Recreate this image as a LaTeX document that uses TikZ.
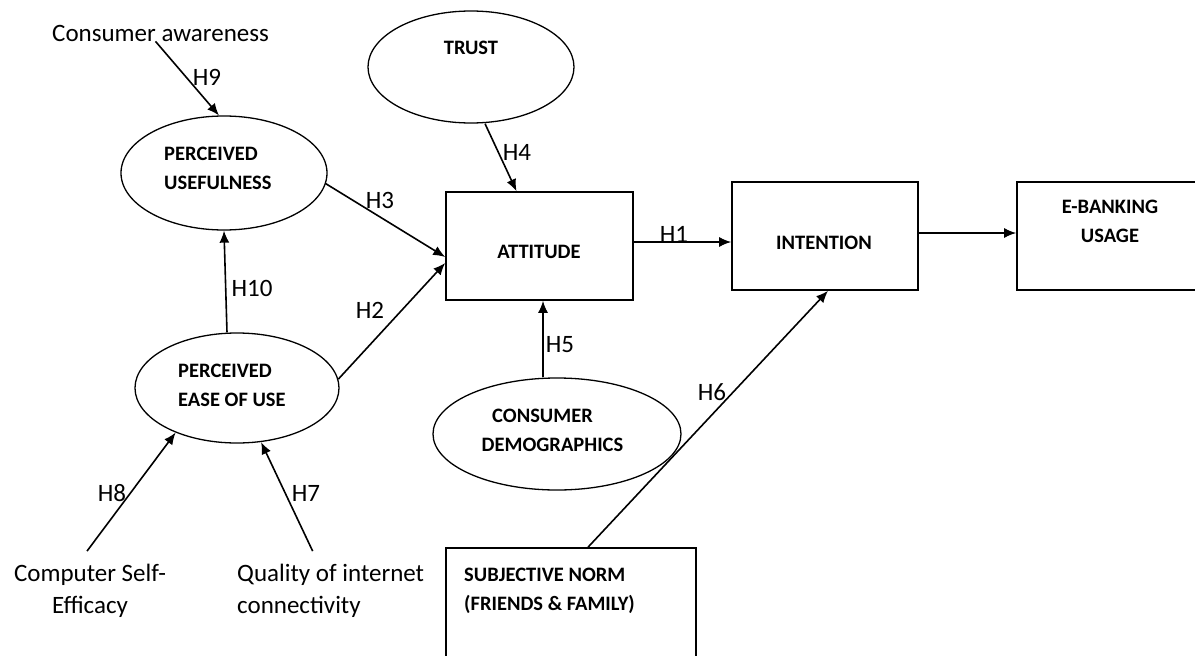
\documentclass[tikz,border=0pt]{standalone}
\usepackage{fontspec}
\setmainfont{Carlito}
\usetikzlibrary{arrows.meta,shapes.geometric}
\begin{document}
\begin{tikzpicture}[x=1pt,y=-1pt,
  ell/.style={draw,ellipse,line width=1.3pt,inner sep=0pt},
  box/.style={draw,rectangle,line width=1.6pt,inner sep=0pt},
  arr/.style={line width=1.6pt,-{Latex[length=12pt,width=10pt]}},
  lab/.style={font=\fontsize{25}{32}\selectfont,inner sep=0pt},
  bt/.style={font=\fontsize{20.5}{29}\selectfont\bfseries,inner sep=0pt},
]
\clip (0,0) rectangle (1195,656);
\fill[white] (0,0) rectangle (1195,656);

% shapes
\node[ell,minimum width=206pt,minimum height=114pt] (pu) at (224,173) {};
\node[ell,minimum width=204pt,minimum height=110pt] (peou) at (237,388) {};
\node[ell,minimum width=206pt,minimum height=112pt] (trust) at (471,67) {};
\node[ell,minimum width=248pt,minimum height=112pt] (cd) at (557,434) {};
\node[box,minimum width=187pt,minimum height=108pt] (att) at (539.5,246) {};
\node[box,minimum width=186pt,minimum height=108pt] (int) at (825,236) {};
\node[box,minimum width=198pt,minimum height=108pt] (eb) at (1116,236) {};
\node[box,minimum width=250pt,minimum height=152pt] (sn) at (571,624) {};

% texts in shapes
\node[bt,align=left,anchor=west] (putxt) at (164,168.5) {PERCEIVED\\USEFULNESS};
\node[bt,align=left,anchor=west] (peoutxt) at (178,385.5) {PERCEIVED\\EASE OF USE};
\node[bt] (trusttxt) at (471,48) {TRUST};
\node[bt] (atttxt) at (539,252) {ATTITUDE};
\node[bt] (inttxt) at (824,243) {INTENTION};
\node[bt,align=center] (ebtxt) at (1110,221.5) {E-BANKING\\USAGE};
\node[bt,align=center] (cdtxt) at (552.5,430.5) {CONSUMER\rule{20pt}{0pt}\\DEMOGRAPHICS};
\node[bt,align=left,anchor=west] (sntxt) at (464,591) {SUBJECTIVE NORM\\(FRIENDS \& FAMILY)};

% free texts
\node[lab,anchor=west] (ca) at (52,33) {Consumer awareness};
\node[lab,align=center] (cse) at (90,591) {Computer Self-\\Efficacy};
\node[lab,align=left,anchor=west] (qic) at (237,591) {Quality of internet\\connectivity};

% connectors
\draw[arr] ([xshift=-5pt]ca.south) -- (pu.95);
\draw[arr] ([xshift=-10pt]peou.north) -- (pu.south);
\draw[arr] (pu.-6) -- ([yshift=-11pt]att.west);
\draw[arr] (peou.5) -- ([yshift=-17pt]att.west);
\draw[arr] ([xshift=14pt]trust.south) -- ([xshift=-23pt]att.north);
\draw[arr] ([yshift=4pt]att.east) -- ([yshift=-6pt]int.west);
\draw[arr] ([yshift=3pt]int.east) -- ([yshift=3pt]eb.west);
\draw[arr] ([xshift=-14pt]cd.north) -- ([xshift=3.5pt]att.south);
\draw[arr] ([xshift=17pt]sn.north) -- ([xshift=3pt]int.south);
\draw[arr] ([xshift=-3pt,yshift=13pt]cse.north) -- (peou.216);
\draw[arr] ([xshift=-18pt,yshift=13pt]qic.north) -- (peou.294);

% hypothesis labels
\node[lab] (h9) at (207,77) {H9};
\node[lab] (h3) at (380,200) {H3};
\node[lab] (h10) at (252,288) {H10};
\node[lab] (h2) at (370,310) {H2};
\node[lab] (h4) at (517,152) {H4};
\node[lab] (h1) at (674,234) {H1};
\node[lab] (h5) at (560,345) {H5};
\node[lab] (h6) at (712,392) {H6};
\node[lab] (h8) at (112,493) {H8};
\node[lab] (h7) at (306,493) {H7};
\end{tikzpicture}
\end{document}
